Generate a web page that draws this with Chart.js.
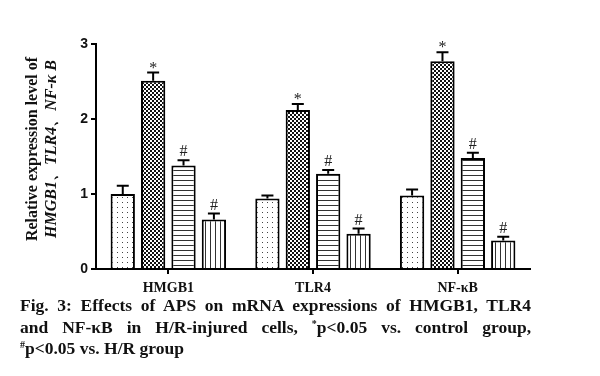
<!DOCTYPE html>
<html>
<head>
<meta charset="utf-8">
<script src="https://cdn.jsdelivr.net/npm/chart.js@4.4.1/dist/chart.umd.min.js"></script>
<style>
  html, body { margin: 0; padding: 0; background: #fff; }
  body { width: 600px; height: 376px; position: relative; overflow: hidden; }
  #wrap { position: absolute; left: 0; top: 0; width: 600px; height: 296px; }
  #caption {
    position: absolute; left: 20px; top: 295px; width: 511px;
    font-family: "Liberation Serif", "Times New Roman", serif; font-weight: bold;
    font-size: 17.5px; line-height: 21.5px; color: #111;
  }
  #caption div { white-space: nowrap; }
  #caption .just { text-align: justify; text-align-last: justify; white-space: normal; }
  sup { font-size: 10px; vertical-align: 6px; line-height: 0; }
</style>
</head>
<body>
<div id="wrap"><canvas id="chart"></canvas></div>
<div id="caption">
  <div class="just">Fig. 3: Effects of APS on mRNA expressions of HMGB1, TLR4</div>
  <div class="just">and NF-κB in H/R-injured cells, <sup>*</sup>p&lt;0.05 vs. control group,</div>
  <div><sup>#</sup>p&lt;0.05 vs. H/R group</div>
</div>
<script>
// categories and values
const genes = ["HMGB1", "TLR4", "NF-κB"];
const groups = ["Control", "H/R", "APS low", "APS high"];
const control = [1.00, 0.94, 0.98];
const hr = [2.51, 2.12, 2.77];
const apsLow = [1.38, 1.27, 1.48];
const apsHigh = [0.66, 0.47, 0.38];
// top of the error bars
const controlErr = [1.11, 0.98, 1.06];
const hrErr = [2.62, 2.20, 2.89];
const apsLowErr = [1.45, 1.32, 1.55];
const apsHighErr = [0.74, 0.54, 0.43];
// significance marks
const hrMarks = ["*", "*", "*"];
const apsLowMarks = ["#", "#", "#"];
const apsHighMarks = ["#", "#", "#"];
const controlMarks = ["", "", ""];
const yTicks = [0, 1, 2, 3];

// fill patterns for the four groups
function makePattern(kind) {
    let c = document.createElement("canvas");
    let p = c.getContext("2d");
    if (kind == "dots") {
        c.width = 5; c.height = 5;
        p.fillStyle = "#fff"; p.fillRect(0, 0, 5, 5);
        p.fillStyle = "#444"; p.fillRect(2, 2, 1, 1);
    } else if (kind == "checker") {
        c.width = 4; c.height = 4;
        p.fillStyle = "#fff"; p.fillRect(0, 0, 4, 4);
        p.fillStyle = "#111"; p.fillRect(0, 0, 2, 2); p.fillRect(2, 2, 2, 2);
    } else if (kind == "hlines") {
        c.width = 4; c.height = 5;
        p.fillStyle = "#fff"; p.fillRect(0, 0, 4, 5);
        p.fillStyle = "#333"; p.fillRect(0, 0, 4, 1);
    } else {
        c.width = 5; c.height = 4;
        p.fillStyle = "#fff"; p.fillRect(0, 0, 5, 4);
        p.fillStyle = "#333"; p.fillRect(0, 0, 1, 4);
    }
    return document.getElementById("chart").getContext("2d").createPattern(c, "repeat");
}

const series = [
    { data: control, err: controlErr, marks: controlMarks, fill: makePattern("dots") },
    { data: hr, err: hrErr, marks: hrMarks, fill: makePattern("checker") },
    { data: apsLow, err: apsLowErr, marks: apsLowMarks, fill: makePattern("hlines") },
    { data: apsHigh, err: apsHighErr, marks: apsHighMarks, fill: makePattern("vlines") }
];

// error bars + significance symbols
const errorBars = {
    id: "errorBars",
    afterDatasetsDraw(chart) {
        let ctx = chart.ctx;
        let y = chart.scales.y;
        ctx.save();
        ctx.strokeStyle = "#000";
        ctx.lineWidth = 2;
        chart.data.datasets.forEach((ds, i) => {
            chart.getDatasetMeta(i).data.forEach((bar, j) => {
                let top = y.getPixelForValue(ds.err[j]);
                ctx.beginPath();
                ctx.moveTo(bar.x, bar.y);
                ctx.lineTo(bar.x, top);
                ctx.moveTo(bar.x - 6, top);
                ctx.lineTo(bar.x + 6, top);
                ctx.stroke();
                if (ds.marks[j]) {
                    ctx.fillStyle = "#222";
                    ctx.font = "16px 'Liberation Serif', serif";
                    ctx.textAlign = "center";
                    ctx.textBaseline = "alphabetic";
                    ctx.fillText(ds.marks[j], bar.x, top - (ds.marks[j] == "*" ? 0 : 4));
                }
            });
        });
        ctx.restore();
    }
};

// two-line rotated y title, second line italic
const yTitle = {
    id: "yTitle",
    afterDraw(chart) {
        let ctx = chart.ctx;
        ctx.save();
        ctx.fillStyle = "#111";
        ctx.textAlign = "center";
        ctx.textBaseline = "middle";
        ctx.translate(0, 149);
        ctx.rotate(-Math.PI / 2);
        ctx.font = "bold 16px 'Liberation Serif', serif";
        ctx.fillText("Relative expression level of", 0, 33);
        ctx.font = "italic bold 16px 'Liberation Serif', serif";
        ctx.fillText("HMGB1、TLR4、NF-κ B", 0, 52);
        ctx.restore();
    }
};

new Chart(document.getElementById("chart"), {
    type: "bar",
    data: {
        labels: genes,
        datasets: series.map((s, i) => ({
            label: groups[i],
            data: s.data,
            err: s.err,
            marks: s.marks,
            backgroundColor: s.fill,
            borderColor: "#000",
            borderWidth: 2,
            borderSkipped: "bottom",
            categoryPercentage: 0.84,
            barPercentage: 0.8
        }))
    },
    options: {
        responsive: true,
        maintainAspectRatio: false,
        animation: false,
        layout: { padding: { left: 0, right: 70, top: 44, bottom: 0 } },
        plugins: { legend: { display: false }, tooltip: { enabled: false } },
        scales: {
            x: {
                grid: { display: true, drawOnChartArea: false, offset: false, color: "#000", lineWidth: 2, tickLength: 5 },
                border: { color: "#000", width: 2 },
                ticks: { color: "#111", padding: 6, font: { family: "'Liberation Serif', serif", weight: "bold", size: 14 } },
                afterFit: s => { s.height = 27; }
            },
            y: {
                min: 0,
                max: 3,
                grid: { display: true, drawOnChartArea: false, color: "#000", lineWidth: 2, tickLength: 5 },
                border: { color: "#000", width: 2 },
                afterBuildTicks: s => { s.ticks = yTicks.map(v => ({ value: v })); },
                ticks: { color: "#111", padding: 3, font: { family: "'Liberation Sans', Arial, sans-serif", weight: "bold", size: 14 } },
                afterFit: s => { s.width = 96; }
            }
        }
    },
    plugins: [errorBars, yTitle]
});
</script>
</body>
</html>
